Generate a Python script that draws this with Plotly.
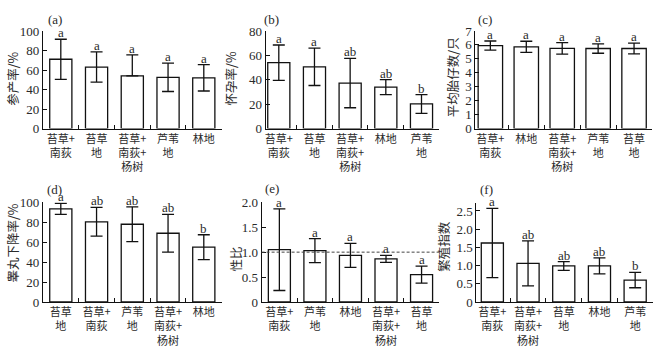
import plotly.graph_objects as go

# ---------------- data ----------------
cats_a = ["苔草+<br>南荻", "苔草<br>地", "苔草+<br>南荻+<br>杨树", "芦苇<br>地", "林地"]
mean_a = [71, 63, 54, 52.5, 52]
errup_a = [20.5, 15.5, 21.5, 14.5, 13.5]
errlo_a = [20.5, 15.5, 0, 14.5, 13.5]
sig_a = ["a", "a", "a", "a", "a"]

cats_b = ["苔草+<br>南荻", "苔草<br>地", "苔草+<br>南荻+<br>杨树", "林地", "芦苇<br>地"]
mean_b = [54, 50.6, 37.3, 34, 20.2]
errup_b = [14.5, 15.3, 20.2, 6.2, 7.7]
errlo_b = [14.5, 15.3, 20.2, 6.2, 7.7]
sig_b = ["a", "a", "ab", "ab", "b"]

cats_c = ["苔草+<br>南荻", "林地", "苔草+<br>南荻+<br>杨树", "芦苇<br>地", "苔草<br>地"]
mean_c = [5.95, 5.86, 5.75, 5.74, 5.74]
errup_c = [0.33, 0.4, 0.41, 0.34, 0.38]
errlo_c = [0.33, 0.4, 0.41, 0.34, 0.38]
sig_c = ["a", "a", "a", "a", "a"]

cats_d = ["苔草<br>地", "苔草+<br>南荻", "芦苇<br>地", "苔草+<br>南荻+<br>杨树", "林地"]
mean_d = [93.5, 80.5, 78, 69, 55]
errup_d = [5.5, 14.5, 17.5, 19, 12.5]
errlo_d = [5.5, 14.5, 17.5, 19, 12.5]
sig_d = ["a", "ab", "ab", "ab", "b"]

cats_e = ["苔草+<br>南荻", "芦苇<br>地", "林地", "苔草+<br>南荻+<br>杨树", "苔草<br>地"]
mean_e = [1.05, 1.03, 0.935, 0.865, 0.55]
errup_e = [0.82, 0.24, 0.24, 0.07, 0.17]
errlo_e = [0.82, 0.24, 0.24, 0.07, 0.17]
sig_e = ["a", "a", "a", "a", "a"]

cats_f = ["苔草+<br>南荻", "苔草+<br>南荻+<br>杨树", "苔草<br>地", "林地", "芦苇<br>地"]
mean_f = [1.62, 1.06, 0.99, 0.99, 0.6]
errup_f = [0.95, 0.62, 0.12, 0.22, 0.21]
errlo_f = [0.95, 0.62, 0.12, 0.22, 0.21]
sig_f = ["a", "ab", "ab", "ab", "b"]

W, H = 659, 354
SERIF = "Liberation Serif, Times New Roman, serif"
CJK = "Noto Sans CJK SC"
TXT = "#2a2a2a"

panels = [
    dict(cats=cats_a, mean=mean_a, up=errup_a, lo=errlo_a, sig=sig_a, lab="(a)", title="参产率/%",
         xpx=(42, 221), ypx=(127, 25), xr=[-0.5, 4.5], yr=[0, 100], ticks=[0, 20, 40, 60, 80, 100],
         ttext=None, bw=0.62, labpos=(54, 13), tpos=(12, 75)),
    dict(cats=cats_b, mean=mean_b, up=errup_b, lo=errlo_b, sig=sig_b, lab="(b)", title="怀孕率/%",
         xpx=(265, 439), ypx=(127, 25), xr=[-0.37, 4.5], yr=[0, 80], ticks=[0, 20, 40, 60, 80],
         ttext=None, bw=0.62, labpos=(271, 13), tpos=(230, 75)),
    dict(cats=cats_c, mean=mean_c, up=errup_c, lo=errlo_c, sig=sig_c, lab="(c)", title="平均胎仔数/只",
         xpx=(475, 652), ypx=(127, 25), xr=[-0.42, 4.5], yr=[0, 7], ticks=[0, 1, 2, 3, 4, 5, 6, 7],
         ttext=None, bw=0.68, labpos=(485, 13), tpos=(453, 73)),
    dict(cats=cats_d, mean=mean_d, up=errup_d, lo=errlo_d, sig=sig_d, lab="(d)", title="睾丸下降率/%",
         xpx=(42, 221), ypx=(308, 204), xr=[-0.5, 4.5], yr=[0, 100], ticks=[0, 20, 40, 60, 80, 100],
         ttext=None, bw=0.62, labpos=(54, 191), tpos=(12, 246)),
    dict(cats=cats_e, mean=mean_e, up=errup_e, lo=errlo_e, sig=sig_e, lab="(e)", title="性比",
         xpx=(261, 439), ypx=(308, 204), xr=[-0.5, 4.5], yr=[0, 2], ticks=[0, 0.5, 1, 1.5, 2],
         ttext=["0", "0.5", "1.0", "1.5", "2.0"], bw=0.62, labpos=(271, 190), tpos=(235, 263)),
    dict(cats=cats_f, mean=mean_f, up=errup_f, lo=errlo_f, sig=sig_f, lab="(f)", title="繁殖指数",
         xpx=(476, 653), ypx=(308, 205), xr=[-0.45, 4.5], yr=[0, 2.71], ticks=[0, 0.5, 1, 1.5, 2, 2.5],
         ttext=["0", "0.5", "1.0", "1.5", "2.0", "2.5"], bw=0.62, labpos=(486, 191), tpos=(443, 250)),
]

fig = go.Figure()
annotations = []
shapes = []
layout = {}

for i, p in enumerate(panels, start=1):
    xa = "x" if i == 1 else f"x{i}"
    ya = "y" if i == 1 else f"y{i}"
    fig.add_trace(go.Bar(
        x=p["cats"], y=p["mean"], xaxis=xa, yaxis=ya, width=p["bw"],
        marker=dict(color="white", line=dict(color="#111111", width=1.3)),
        error_y=dict(type="data", symmetric=False, array=p["up"], arrayminus=p["lo"],
                     color="#111111", thickness=1.3, width=6),
        showlegend=False, hoverinfo="skip",
    ))
    xk = "xaxis" if i == 1 else f"xaxis{i}"
    yk = "yaxis" if i == 1 else f"yaxis{i}"
    layout[xk] = dict(
        domain=[p["xpx"][0] / W, p["xpx"][1] / W], anchor=ya, type="category",
        range=p["xr"], showline=True, linecolor="#111111", linewidth=1,
        ticks="inside", tickson="boundaries", ticklen=4, tickcolor="#111111",
        tickfont=dict(family=CJK, size=11, color=TXT), tickangle=0,
        showgrid=False, zeroline=False, fixedrange=True,
    )
    yaxis = dict(
        domain=[1 - p["ypx"][0] / H, 1 - p["ypx"][1] / H], anchor=xa,
        range=p["yr"], showline=True, linecolor="#111111", linewidth=1,
        ticks="inside", ticklen=4, tickcolor="#111111", tickvals=p["ticks"],
        tickfont=dict(family=SERIF, size=13, color=TXT),
        showgrid=False, zeroline=False, fixedrange=True,
    )
    if p["ttext"]:
        yaxis["ticktext"] = p["ttext"]
    layout[yk] = yaxis

    # significance letters
    for c, m, u, s in zip(p["cats"], p["mean"], p["up"], p["sig"]):
        annotations.append(dict(
            x=c, y=m + u, xref=xa, yref=ya, text=s, showarrow=False,
            yanchor="bottom", yshift=-3, font=dict(family=SERIF, size=13, color=TXT),
        ))
    # panel label
    annotations.append(dict(
        x=p["labpos"][0] / W, y=1 - p["labpos"][1] / H, xref="paper", yref="paper",
        text=p["lab"], showarrow=False, xanchor="center", yanchor="middle",
        font=dict(family=SERIF, size=13, color=TXT),
    ))
    # y title
    annotations.append(dict(
        x=p["tpos"][0] / W, y=1 - p["tpos"][1] / H, xref="paper", yref="paper",
        text=p["title"], showarrow=False, textangle=-90, xanchor="center", yanchor="middle",
        font=dict(family=CJK, size=12.5, color=TXT),
    ))

# reference line at sex ratio 1.0 in panel (e)
shapes.append(dict(type="line", xref="x5 domain", yref="y5", x0=0, x1=1, y0=1.0, y1=1.0,
                   line=dict(color="#444444", width=1, dash="3px,2px")))

fig.update_layout(
    width=W, height=H, margin=dict(l=0, r=0, t=0, b=0),
    paper_bgcolor="white", plot_bgcolor="white",
    annotations=annotations, shapes=shapes, bargap=0.3,
    **layout,
)

fig.write_html("out.html")
